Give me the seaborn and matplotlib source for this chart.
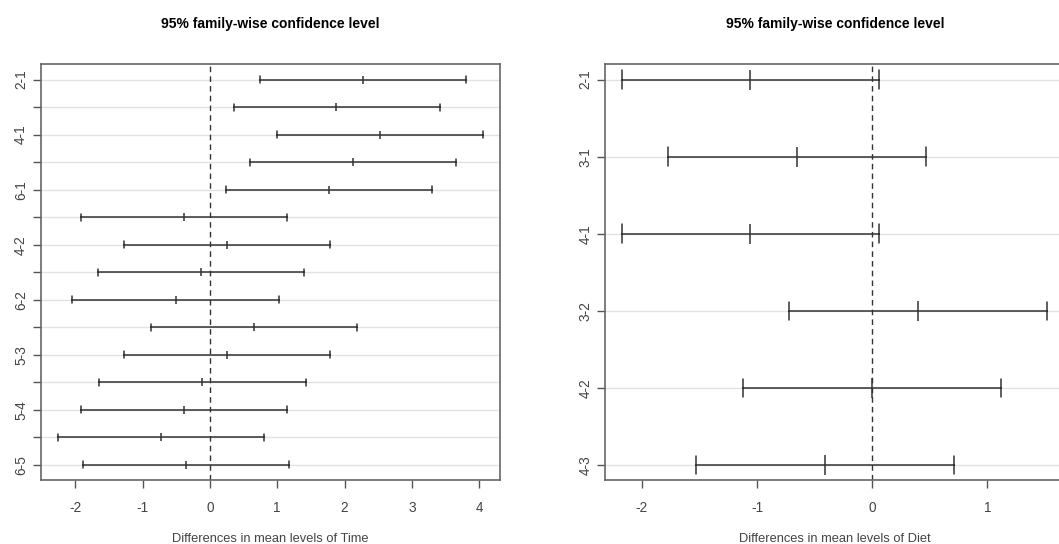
import matplotlib
matplotlib.use("Agg")
import matplotlib.pyplot as plt
import seaborn as sns
import pandas as pd

# Tukey HSD results (lwr, diff, upr)
time_pairs = ["2-1", "3-1", "4-1", "5-1", "6-1", "3-2", "4-2", "5-2", "6-2",
              "4-3", "5-3", "6-3", "5-4", "6-4", "6-5"]
time_lwr = [0.75, 0.36, 0.99, 0.59, 0.24, -1.91, -1.28, -1.66, -2.04,
            -0.88, -1.27, -1.64, -1.91, -2.26, -1.89]
time_diff = [2.28, 1.88, 2.52, 2.12, 1.77, -0.38, 0.25, -0.13, -0.50,
             0.65, 0.26, -0.11, -0.38, -0.73, -0.35]
time_upr = [3.81, 3.41, 4.05, 3.66, 3.30, 1.14, 1.78, 1.40, 1.03,
            2.18, 1.79, 1.42, 1.15, 0.80, 1.18]

diet_pairs = ["2-1", "3-1", "4-1", "3-2", "4-2", "4-3"]
diet_lwr = [-2.17, -1.77, -2.17, -0.72, -1.12, -1.53]
diet_diff = [-1.06, -0.65, -1.06, 0.40, 0.00, -0.41]
diet_upr = [0.06, 0.47, 0.06, 1.52, 1.12, 0.71]

LINE = "#333333"
GRID = "#e2e2e2"
TXT = "#444444"

sns.set_theme(style="white")
plt.rcParams["font.family"] = ["Liberation Sans", "DejaVu Sans"]


def long_table(pairs, lwr, diff, upr):
    rows = []
    for p, a, b, c in zip(pairs, lwr, diff, upr):
        for v in (a, b, c):
            rows.append({"pair": p, "value": v})
    return pd.DataFrame(rows)


def tukey_panel(ax, pairs, lwr, diff, upr, factor, cap, msize):
    df = long_table(pairs, lwr, diff, upr)
    for y in range(len(pairs)):
        ax.axhline(y, color=GRID, lw=1, zorder=0)
    ax.axvline(0, color=LINE, lw=1, ls=(0, (4, 3)), zorder=1)
    # median of (lwr, diff, upr) is the estimate, full range gives the interval
    sns.pointplot(data=df, x="value", y="pair", order=pairs, orient="h",
                  estimator="median", errorbar=("pi", 100), capsize=cap,
                  markers="|", linestyle="none", color=LINE,
                  markersize=msize, markeredgewidth=1.1,
                  err_kws={"linewidth": 1.1}, ax=ax)
    span = max(upr) - min(lwr)
    ax.set_xlim(min(lwr) - 0.04 * span, max(upr) + 0.04 * span)
    ypad = 0.04 * (len(pairs) - 1)
    ax.set_ylim(len(pairs) - 1 + ypad, -ypad)
    labels = [p if i % 2 == 0 or len(pairs) < 10 else "" for i, p in enumerate(pairs)]
    ax.set_yticks(range(len(pairs)))
    ax.set_yticklabels(labels, rotation=90, va="center")
    ax.set_ylabel("")
    ax.set_xlabel(f"Differences in mean levels of {factor}", fontsize=9.3,
                  color=TXT, labelpad=13)
    ax.set_title("95% family-wise confidence level", fontsize=10,
                 fontweight="bold", color="black", pad=26)
    ax.tick_params(axis="both", which="both", length=6, width=1, color="#555555",
                   labelsize=9.8, labelcolor=TXT, direction="out",
                   bottom=True, left=True, pad=3)
    ax.tick_params(axis="x", pad=9)
    for s in ax.spines.values():
        s.set_color("#666666")
        s.set_linewidth(1.2)


fig = plt.figure(figsize=(10.59, 5.44), dpi=100)
ax1 = fig.add_axes([0.0384, 0.117, 0.4334, 0.765])
ax2 = fig.add_axes([0.5716, 0.117, 0.4334, 0.765])

tukey_panel(ax1, time_pairs, time_lwr, time_diff, time_upr, "Time", 0.25, 6)
tukey_panel(ax2, diet_pairs, diet_lwr, diet_diff, diet_upr, "Diet", 0.24, 14)
ax1.set_xticks(range(-2, 5))
ax2.set_xticks(range(-2, 2))
for ax in (ax1, ax2):
    ax.set_xticklabels([str(t) for t in ax.get_xticks().astype(int)])

fig.savefig("out.png", dpi=100)
